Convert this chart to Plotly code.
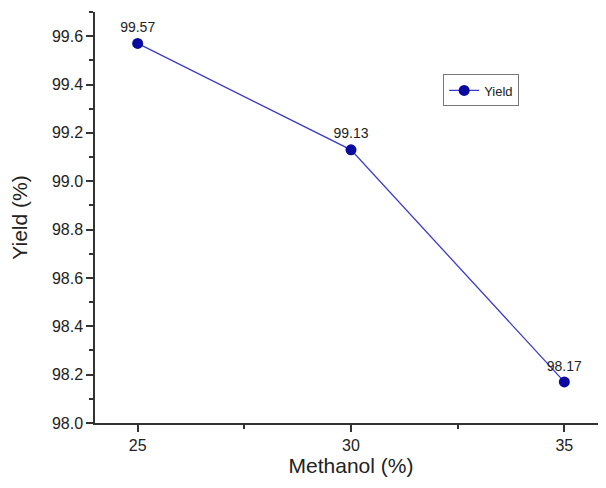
import plotly.graph_objects as go

methanol = [25, 30, 35]
yield_pct = [99.57, 99.13, 98.17]
labels = ["99.57", "99.13", "98.17"]

FONT = "Liberation Sans, Arial"

fig = go.Figure()
fig.add_trace(go.Scatter(
    x=methanol, y=yield_pct, mode="lines+markers+text", name="Yield",
    text=labels, textposition="top center",
    textfont=dict(family=FONT, size=14, color="#222222"),
    line=dict(color="#3a3acc", width=1.3),
    marker=dict(color="#0a0aa0", size=11),
))

axis_common = dict(
    showline=True, linecolor="#333333", linewidth=1.5,
    ticks="outside", ticklen=7, tickwidth=1.5, tickcolor="#333333",
    showgrid=False, zeroline=False, automargin=False,
    tickfont=dict(family=FONT, size=16, color="#222222"),
    title_font=dict(family=FONT, size=21, color="#222222"),
    mirror=False,
)

fig.update_layout(
    width=600, height=480,
    margin=dict(l=87, r=1, t=4, b=65),
    plot_bgcolor="white", paper_bgcolor="white",
    xaxis=dict(range=[24, 36], tickvals=[25, 30, 35], title_text="Methanol (%)",
               title_standoff=4,
               minor=dict(tickvals=[27.5, 32.5], ticks="outside", ticklen=4,
                          tickwidth=1.5, tickcolor="#333333"),
               **axis_common),
    yaxis=dict(range=[98.0, 99.7], tickvals=[98.0, 98.2, 98.4, 98.6, 98.8, 99.0, 99.2, 99.4, 99.6],
               tickformat=".1f", title_text="Yield (%)", title_standoff=22,
               minor=dict(tickvals=[98.1, 98.3, 98.5, 98.7, 98.9, 99.1, 99.3, 99.5, 99.7],
                          ticks="outside", ticklen=4, tickwidth=1.5, tickcolor="#333333"),
               **axis_common),
    showlegend=True,
    legend=dict(x=0.68, y=0.848, xanchor="left", yanchor="top",
                bordercolor="#777777", borderwidth=1, bgcolor="white",
                font=dict(family=FONT, size=13, color="#222222"),
                itemwidth=30, tracegroupgap=0),
)

fig.write_html("out.html")
